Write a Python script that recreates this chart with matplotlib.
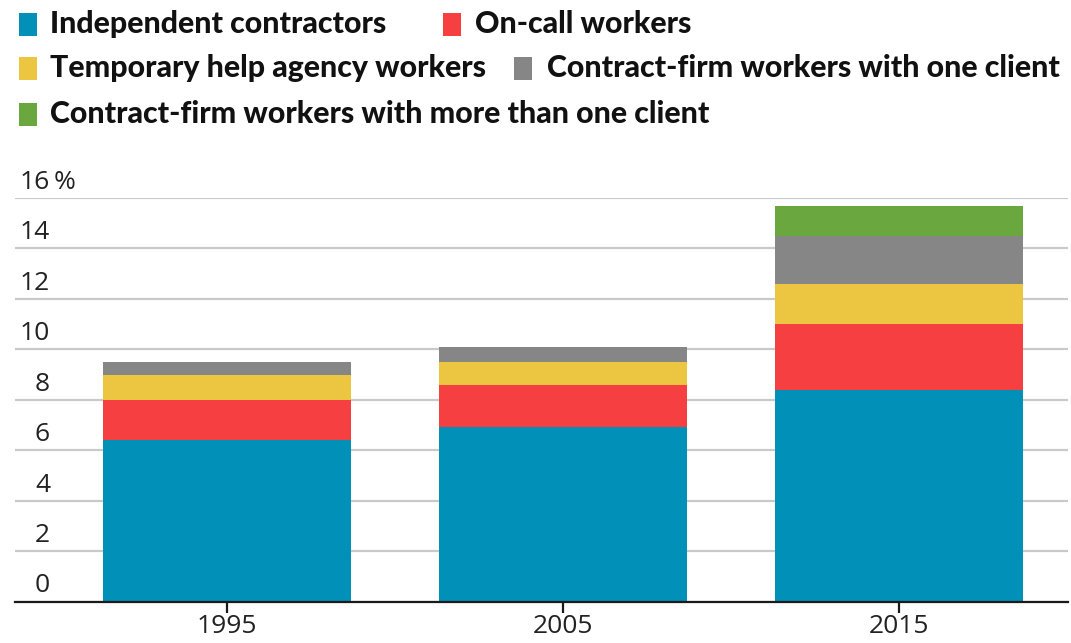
import matplotlib
matplotlib.use("Agg")
import matplotlib.pyplot as plt
from matplotlib.patches import Rectangle
from matplotlib.transforms import ScaledTranslation
import numpy as np

# Share of workers in alternative work arrangements (% of employment)
years = ["1995", "2005", "2015"]
series_names = [
    "Independent contractors",
    "On-call workers",
    "Temporary help agency workers",
    "Contract-firm workers with one client",
    "Contract-firm workers with more than one client",
]
independent = [6.4, 6.9, 8.4]
on_call = [1.6, 1.7, 2.6]
temp_agency = [1.0, 0.9, 1.6]
contract_one = [0.5, 0.6, 1.9]
contract_multi = [0.0, 0.0, 1.2]
y_ticks = [0, 2, 4, 6, 8, 10, 12, 14, 16]

colors = ["#0090b8", "#f63f41", "#ecc640", "#868686", "#6aa83f"]
series = [independent, on_call, temp_agency, contract_one, contract_multi]

W, H = 1071, 643
fig = plt.figure(figsize=(W / 100, H / 100), dpi=100)
fig.patch.set_facecolor("white")

ax_left, ax_right = 15 / W, 1068 / W
ax_bottom, ax_top = (H - 601.5) / H, (H - 198) / H
ax = fig.add_axes([ax_left, ax_bottom, ax_right - ax_left, ax_top - ax_bottom])

x = np.arange(len(years))
bottom = np.zeros(len(years))
for vals, col in zip(series, colors):
    v = np.array(vals, dtype=float)
    ax.bar(x, v, width=0.737, bottom=bottom, color=col, linewidth=0, zorder=3)
    bottom += v

ax.set_xlim(-0.629, 2.501)
ax.set_ylim(0, 16)

# Horizontal gridlines
ax.set_yticks(y_ticks)
ax.yaxis.grid(True, color="#c9c9c9", linewidth=1.6, zorder=0)
ax.set_axisbelow(True)

for s in ["top", "right", "left"]:
    ax.spines[s].set_visible(False)
ax.spines["bottom"].set_color("#1a1a1a")
ax.spines["bottom"].set_linewidth(1.6)
ax.spines["bottom"].set_zorder(4)

tick_font = {"family": ["Open Sans", "DejaVu Sans"], "size": 19}
tick_color = "#222222"

# Y tick labels sit just above their gridlines, right-aligned inside the plot
ax.tick_params(axis="y", length=0, pad=0)
ax.set_yticklabels([str(t) for t in y_ticks], fontdict=tick_font, color=tick_color)
label_shift = ScaledTranslation((50 - 15) / 100, 9 / 100, fig.dpi_scale_trans)
for lab in ax.get_yticklabels():
    lab.set_horizontalalignment("right")
    lab.set_verticalalignment("baseline")
    lab.set_transform(lab.get_transform() + label_shift)

# Unit sign after the top label
pct_shift = ScaledTranslation((50 - 15 + 4) / 100, 9 / 100, fig.dpi_scale_trans)
ax.text(0, y_ticks[-1], "%", transform=ax.get_yaxis_transform() + pct_shift,
        fontdict=tick_font, color=tick_color, ha="left", va="baseline", clip_on=False)

ax.set_xticks(x)
ax.set_xticklabels(years, fontdict=tick_font, color=tick_color)
ax.tick_params(axis="x", length=8, width=1.6, color="#1a1a1a", pad=1, direction="out")

# Legend drawn as colored squares with bold labels
legend_font = {"family": ["Lato", "DejaVu Sans"], "weight": 900, "size": 21.8}
legend_items = [
    # (series index, square x, text x, baseline y, square top y)
    (0, 19, 50, 33, 13),
    (1, 443, 475, 33, 13),
    (2, 19, 50, 77, 57),
    (3, 514, 547, 77, 57),
    (4, 19, 50, 123, 103),
]
for idx, sx, tx, by, sy in legend_items:
    fig.patches.append(Rectangle((sx / W, (H - sy - 23) / H), 18 / W, 23 / H,
                                 transform=fig.transFigure, color=colors[idx], linewidth=0))
    fig.text(tx / W, (H - by) / H, series_names[idx], fontdict=legend_font,
             color="#111111", ha="left", va="baseline")

fig.savefig("out.png", dpi=100, facecolor="white")
